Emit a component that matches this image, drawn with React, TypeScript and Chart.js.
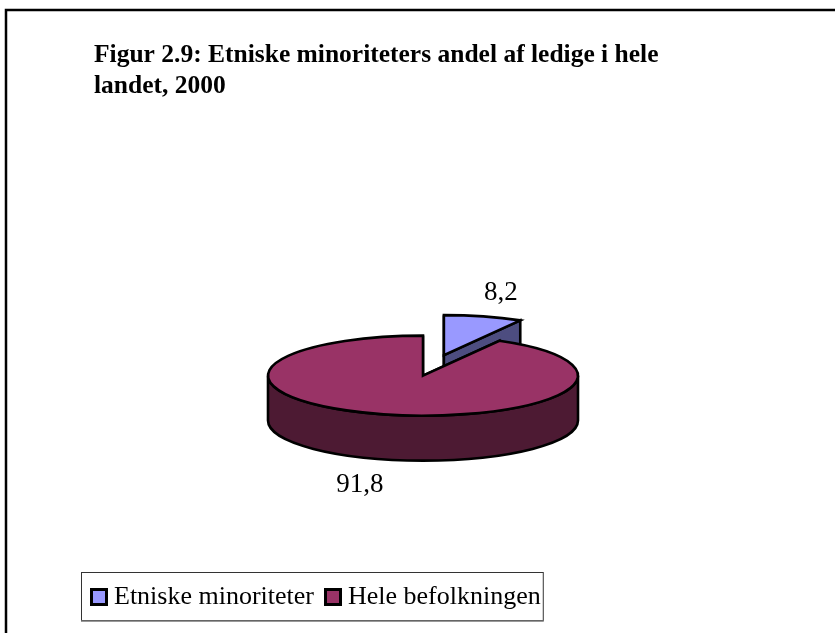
import React, { useEffect, useRef } from "react";
import { Chart, ArcElement, PieController, Legend, Title } from "chart.js";

const categories = ["Etniske minoriteter", "Hele befolkningen"];
const values = [8.2, 91.8];
const valueLabels = ["8,2", "91,8"];
const topColors = ["#9999FF", "#993366"];
const wallColors = ["#4D4D80", "#4D1A33"];
const explode = [82, 0];
const labelReach = [1.44, 1.6];
const labelShift = [-7, 47];
const titleLines = ["Figur 2.9: Etniske minoriteters andel af ledige i hele", "landet, 2000"];

const SERIF = "'Liberation Serif', 'Times New Roman', serif";
const TILT = 0.258;
const DEPTH = 45;
const LINE = 2.6;

class Arc3D extends ArcElement {
  static id = "arc3d";
  static defaults = { ...ArcElement.defaults };

  draw(ctx: CanvasRenderingContext2D) {
    const self = this as any;
    const i = self.$context.dataIndex;
    const { startAngle, endAngle, outerRadius: r, x, y } = self;
    const mid = (startAngle + endAngle) / 2;
    const cx = x + Math.cos(mid) * explode[i];
    const cy = y + Math.sin(mid) * explode[i] * TILT;
    const px = (a: number) => cx + Math.cos(a) * r;
    const py = (a: number) => cy + Math.sin(a) * r * TILT;
    ctx.save();
    ctx.lineWidth = LINE;
    ctx.strokeStyle = "#000";
    ctx.lineJoin = "miter";
    ctx.fillStyle = wallColors[i];

    // cut faces
    for (const a of [startAngle, endAngle]) {
      ctx.beginPath();
      ctx.moveTo(cx, cy);
      ctx.lineTo(px(a), py(a));
      ctx.lineTo(px(a), py(a) + DEPTH);
      ctx.lineTo(cx, cy + DEPTH);
      ctx.closePath();
      ctx.fill();
      ctx.stroke();
    }
    // outer rim (front half only)
    const a0 = Math.max(startAngle, 0);
    const a1 = Math.min(endAngle, Math.PI);
    if (a1 > a0) {
      ctx.beginPath();
      ctx.ellipse(cx, cy, r, r * TILT, 0, a0, a1);
      ctx.lineTo(px(a1), py(a1) + DEPTH);
      ctx.ellipse(cx, cy + DEPTH, r, r * TILT, 0, a1, a0, true);
      ctx.closePath();
      ctx.fill();
      ctx.stroke();
    }
    // top face, drawn by the library's arc under the tilt projection
    ctx.save();
    ctx.translate(cx, cy);
    ctx.scale(1, TILT);
    ctx.translate(-x, -y);
    super.draw(ctx);
    ctx.restore();
    // outline of uniform weight
    ctx.beginPath();
    ctx.moveTo(cx, cy);
    ctx.ellipse(cx, cy, r, r * TILT, 0, startAngle, endAngle);
    ctx.closePath();
    ctx.stroke();
    ctx.restore();
  }
}

class Pie3D extends PieController {
  static id = "pie3d";
  static defaults = { ...PieController.defaults, dataElementType: "arc3d" };
}

Chart.register(Arc3D, Pie3D, Legend, Title);

const LEGEND_SHIFT = 14;

const decorate = {
  id: "decorate",
  afterLayout(chart: any) {
    const lg = chart.legend;
    lg.left -= LEGEND_SHIFT;
    lg.right -= LEGEND_SHIFT;
    lg.legendHitBoxes.forEach((h: any) => {
      h.left -= LEGEND_SHIFT;
    });
  },
  beforeDraw(chart: any) {
    const { ctx, width, height } = chart;
    ctx.save();
    ctx.strokeStyle = "#000";
    ctx.lineWidth = 2.5;
    ctx.strokeRect(6, 10, width + 20, height + 20);
    ctx.restore();
  },
  afterDraw(chart: any) {
    const { ctx } = chart;
    const meta = chart.getDatasetMeta(0);
    ctx.save();
    ctx.fillStyle = "#000";
    ctx.font = `27px ${SERIF}`;
    ctx.textAlign = "center";
    ctx.textBaseline = "middle";
    meta.data.forEach((arc: any, i: number) => {
      const mid = (arc.startAngle + arc.endAngle) / 2;
      const cx = arc.x + Math.cos(mid) * explode[i];
      const cy = arc.y + Math.sin(mid) * explode[i] * TILT;
      const reach = arc.outerRadius * labelReach[i];
      ctx.fillText(
        valueLabels[i],
        cx + Math.cos(mid) * reach,
        cy + Math.sin(mid) * reach * TILT + labelShift[i]
      );
    });
    // legend frame and swatches
    const boxes = chart.legend.legendHitBoxes;
    const first = boxes[0];
    const last = boxes[boxes.length - 1];
    const midY = first.top + first.height / 2;
    const fx = first.left - 9;
    const fy = midY - 25;
    const fw = last.left + last.width + 2 - fx;
    const fh = 48;
    ctx.strokeStyle = "#333";
    ctx.lineWidth = 1;
    ctx.strokeRect(fx + 0.5, fy + 0.5, fw, fh);
    ctx.strokeStyle = "#777";
    ctx.lineWidth = 1.5;
    ctx.beginPath();
    ctx.moveTo(fx, fy + fh + 1);
    ctx.lineTo(fx + fw + 1, fy + fh + 1);
    ctx.stroke();
    boxes.forEach((b: any, i: number) => {
      const sy = b.top + b.height / 2 - 9;
      ctx.fillStyle = topColors[i];
      ctx.strokeStyle = "#000";
      ctx.lineWidth = 3;
      ctx.fillRect(b.left, sy, 18, 18);
      ctx.strokeRect(b.left + 1.5, sy + 1.5, 15, 15);
    });
    ctx.restore();
  },
};

export default function App() {
  const ref = useRef<HTMLCanvasElement>(null);
  useEffect(() => {
    const chart = new Chart(ref.current!, {
      type: "pie3d" as any,
      data: {
        labels: categories,
        datasets: [
          {
            data: values,
            backgroundColor: topColors,
            borderWidth: 0,
            radius: 155,
            clip: false,
          } as any,
        ],
      },
      options: {
        animation: false,
        responsive: false,
        events: [],
        rotation: 0,
        layout: { padding: { left: 94, right: 83, top: 0, bottom: 13 } },
        plugins: {
          title: {
            display: true,
            text: titleLines,
            align: "start",
            color: "#000",
            font: { family: SERIF, size: 25.5, weight: "bold", lineHeight: 1.22 },
            padding: { top: 39.5, bottom: 75.5 },
          },
          legend: {
            display: true,
            position: "bottom",
            align: "start",
            labels: {
              font: { family: SERIF, size: 26 },
              color: "#000",
              boxWidth: 11,
              boxHeight: 9,
              padding: 10,
              generateLabels: () =>
                categories.map((text, index) => ({
                  text,
                  index,
                  fillStyle: "transparent",
                  strokeStyle: "transparent",
                  lineWidth: 0,
                  fontColor: "#000",
                })),
            },
          },
          tooltip: { enabled: false },
        },
      } as any,
      plugins: [decorate],
    });
    return () => chart.destroy();
  }, []);
  return (
    <canvas
      ref={ref}
      width={835}
      height={633}
      style={{ position: "fixed", left: 0, top: 0, display: "block" }}
    />
  );
}
